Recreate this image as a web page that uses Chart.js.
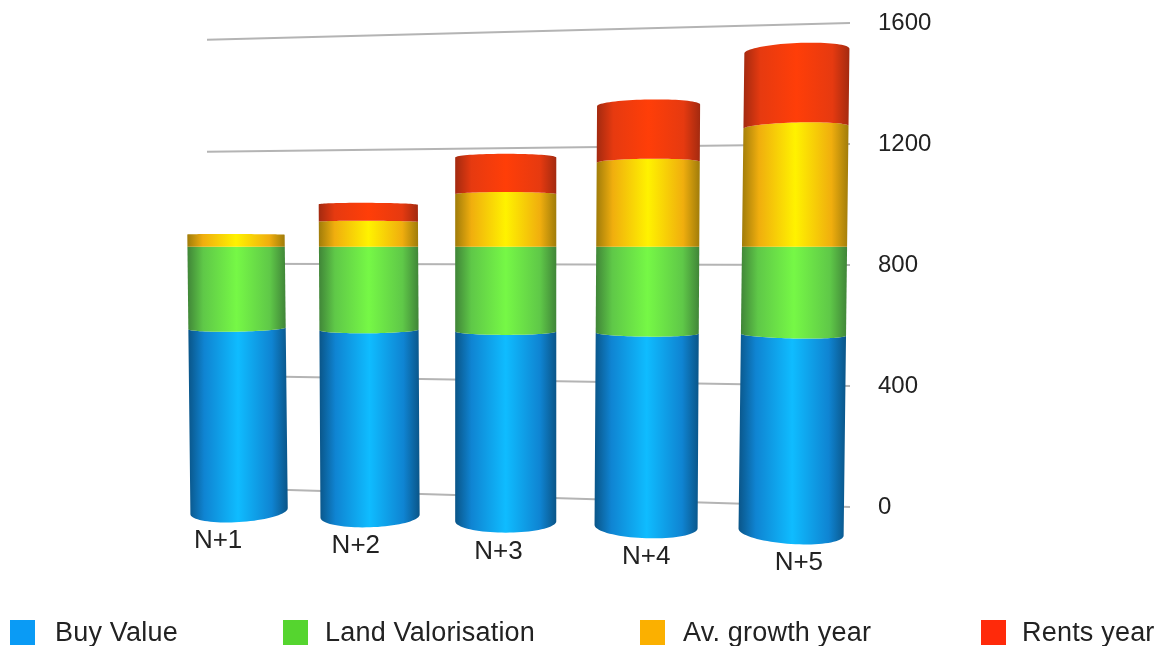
<!DOCTYPE html>
<html>
<head>
<meta charset="utf-8">
<title>Investment value per year</title>
<script src="https://cdn.jsdelivr.net/npm/chart.js@4/dist/chart.umd.min.js"></script>
<style>
    html, body { margin: 0; padding: 0; background: #ffffff; }
    canvas { display: block; }
</style>
</head>
<body>
<canvas id="value-chart" width="1162" height="646"></canvas>
<script>
const categories = ['N+1', 'N+2', 'N+3', 'N+4', 'N+5'];
const buyValue = [595, 595, 595, 595, 595];
const landValorisation = [265, 265, 265, 265, 265];
const avGrowthYear = [40, 80, 165, 260, 360];
const rentsYear = [0, 55, 115, 175, 230];
const seriesNames = ['Buy Value', 'Land Valorisation', 'Av. growth year', 'Rents year'];
const legendColors = ['#0a9bf5', '#55d52f', '#fbb000', '#ff2a0a'];
const axisMax = 1600;
const axisStep = 400;

// edge, side and centre colour of each cylinder colour band
const bandShades = [
    ['#0a5588', '#0f84d2', '#0fbcff'],
    ['#408538', '#5fc848', '#76f846'],
    ['#a07c0a', '#f0ae0e', '#fff200'],
    ['#a32a10', '#e63a10', '#ff3e08']
];

const textColor = '#222222';
const gridColor = '#b4b4b4';
const horizonY = 247;
const centerX = 505;

// back wall perspective: the wall recedes towards the left
function wallDepth(x) {
    return 1 - (850 - x) / 8582;
}

// cylinders stand in front of the wall and come closer towards the right
function barDepth(x) {
    return 1.058 + (x - 236) * 1.508e-4;
}

// spreads the evenly spaced categories apart towards both ends
function bendX(u) {
    return u + 1.24e-4 * Math.pow(u - 485, 2) + 3.2;
}

function cylinderRing(chartX, pixelY, halfWidth) {
    const x = bendX(chartX);
    const depth = barDepth(x);
    const offset = (pixelY - horizonY) * depth;
    return {
        cx: centerX + (x - centerX) * (1 - offset * 4e-5),
        front: horizonY + offset,
        rx: halfWidth * depth,
        ry: offset * 0.04,
        tilt: (x - centerX) * offset * 8e-5
    };
}

// walks the visible front of a ring, from the left side to the right side
function ringPoints(ring) {
    const points = [];
    for (let i = 0; i <= 40; i++) {
        const a = Math.PI * i / 40;
        const side = -Math.cos(a);
        points.push({
            x: ring.cx + side * ring.rx,
            y: ring.front - ring.ry + ring.ry * Math.sin(a) + side * ring.tilt / 2
        });
    }
    return points;
}

function drawBand(ctx, bar, shades) {
    const halfWidth = bar.width / 2;
    const lower = ringPoints(cylinderRing(bar.x, bar.base, halfWidth));
    const upper = ringPoints(cylinderRing(bar.x, bar.y, halfWidth)).reverse();
    const left = Math.min(lower[0].x, upper[upper.length - 1].x);
    const right = Math.max(lower[lower.length - 1].x, upper[0].x);

    const fill = ctx.createLinearGradient(left, 0, right, 0);
    fill.addColorStop(0, shades[0]);
    fill.addColorStop(0.16, shades[1]);
    fill.addColorStop(0.5, shades[2]);
    fill.addColorStop(0.84, shades[1]);
    fill.addColorStop(1, shades[0]);

    ctx.beginPath();
    lower.concat(upper).forEach((p, i) => {
        if (i === 0) ctx.moveTo(p.x, p.y);
        else ctx.lineTo(p.x, p.y);
    });
    ctx.closePath();
    ctx.fillStyle = fill;
    ctx.fill();
}

const perspectivePlugin = {
    id: 'perspective',
    beforeDatasetsDraw(chart) {
        const ctx = chart.ctx;
        const yScale = chart.scales.y;
        ctx.save();
        ctx.strokeStyle = gridColor;
        ctx.lineWidth = 2;
        yScale.ticks.forEach(tick => {
            const offset = yScale.getPixelForValue(tick.value) - horizonY;
            ctx.beginPath();
            ctx.moveTo(207, horizonY + offset * wallDepth(207));
            ctx.lineTo(chart.chartArea.right, horizonY + offset);
            ctx.stroke();
        });
        ctx.restore();
    },
    afterDatasetsDraw(chart) {
        const ctx = chart.ctx;
        ctx.save();
        chart.data.datasets.forEach((dataset, d) => {
            chart.getDatasetMeta(d).data.forEach((bar, i) => {
                if (dataset.data[i] > 0) {
                    drawBand(ctx, bar, bandShades[d]);
                }
            });
        });

        // category names hang below each cylinder base
        ctx.fillStyle = textColor;
        ctx.font = '26px "Liberation Sans", Arial, sans-serif';
        ctx.textAlign = 'center';
        ctx.textBaseline = 'middle';
        chart.getDatasetMeta(0).data.forEach((bar, i) => {
            const x = bendX(bar.x);
            const ring = cylinderRing(bar.x, bar.base, bar.width / 2);
            ctx.fillText(categories[i], x + (x - 236) * 0.04 - 18, ring.front + 19);
        });

        // legend row along the bottom edge
        const boxes = [10, 283, 640, 981];
        const textStart = [55, 325, 683, 1022];
        ctx.textAlign = 'left';
        ctx.textBaseline = 'alphabetic';
        ctx.font = '27px "Liberation Sans", Arial, sans-serif';
        ctx.letterSpacing = '0.2px';
        seriesNames.forEach((name, i) => {
            ctx.fillStyle = legendColors[i];
            ctx.fillRect(boxes[i], 620, 25, 25);
            ctx.fillStyle = textColor;
            ctx.fillText(name, textStart[i], 641);
        });
        ctx.restore();
    }
};

function makeDataset(label, values) {
    return {
        label: label,
        data: values,
        backgroundColor: 'rgba(0,0,0,0)',
        borderWidth: 0,
        barPercentage: 1,
        categoryPercentage: 0.662
    };
}

new Chart(document.getElementById('value-chart'), {
    type: 'bar',
    data: {
        labels: categories,
        datasets: [
            makeDataset(seriesNames[0], buyValue),
            makeDataset(seriesNames[1], landValorisation),
            makeDataset(seriesNames[2], avGrowthYear),
            makeDataset(seriesNames[3], rentsYear)
        ]
    },
    options: {
        responsive: false,
        animation: false,
        layout: { padding: { left: 155, top: 23, bottom: 139, right: 0 } },
        plugins: {
            legend: { display: false },
            tooltip: { enabled: false }
        },
        scales: {
            x: { stacked: true, display: false },
            y: {
                stacked: true,
                position: 'right',
                min: 0,
                max: axisMax,
                grid: { display: false, drawTicks: false },
                border: { display: false },
                ticks: {
                    stepSize: axisStep,
                    padding: 28,
                    color: textColor,
                    font: { family: '"Liberation Sans", Arial, sans-serif', size: 24 },
                    callback: value => String(value)
                },
                afterFit(scale) {
                    scale.width = 312;
                    scale.paddingTop = 0;
                    scale.paddingBottom = 0;
                }
            }
        }
    },
    plugins: [perspectivePlugin]
});
</script>
</body>
</html>
